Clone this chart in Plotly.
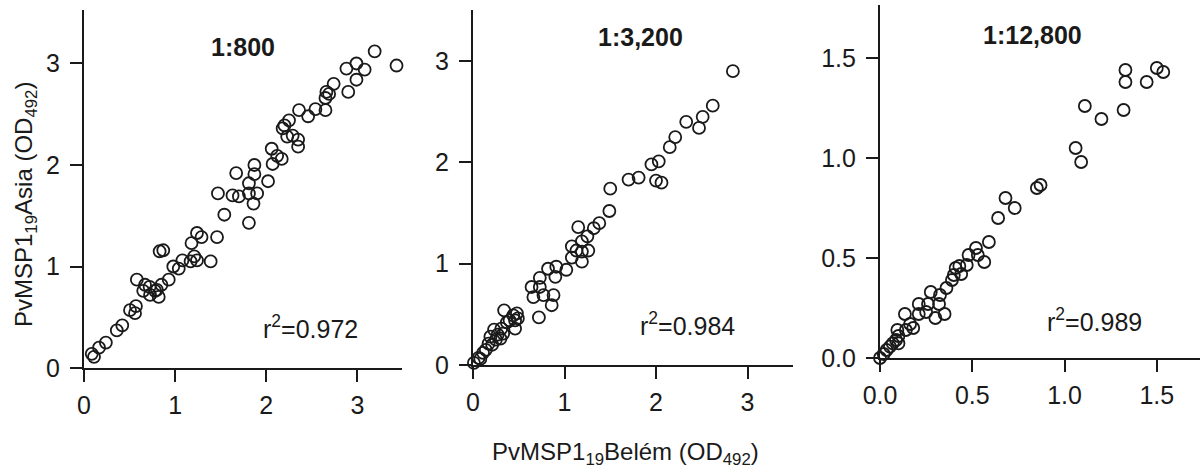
import plotly.graph_objects as go

W, H = 1200, 471

# 1:800 dilution
p1_x = [0.085, 0.11, 0.165, 0.24, 0.36, 0.42, 0.505, 0.57, 0.56, 0.58, 0.67, 0.65, 0.725, 0.80, 0.82,
        0.85, 0.93, 0.83, 0.87, 0.98, 1.04, 1.08, 1.17, 1.24, 1.21, 1.18, 1.24, 1.29, 1.39, 1.46,
        1.54, 1.47, 1.63, 1.70, 1.67, 1.81, 1.81, 1.81, 1.86, 1.90, 1.87, 1.87, 2.02, 2.06, 2.07,
        2.12, 2.17, 2.18, 2.20, 2.25, 2.23, 2.29, 2.35, 2.35, 2.36, 2.46, 2.54, 2.65, 2.65, 2.66,
        2.69, 2.74, 2.90, 2.88, 2.99, 2.99, 3.08, 3.19, 3.43, 0.78, 0.72]
p1_y = [0.14, 0.11, 0.20, 0.25, 0.37, 0.42, 0.57, 0.61, 0.54, 0.87, 0.82, 0.76, 0.72, 0.77, 0.70,
        0.82, 0.87, 1.15, 1.16, 1.00, 0.98, 1.06, 1.05, 1.06, 1.10, 1.23, 1.33, 1.29, 1.05, 1.29,
        1.51, 1.72, 1.70, 1.69, 1.92, 1.43, 1.72, 1.82, 1.62, 1.72, 2.00, 1.91, 1.84, 2.16, 2.01,
        2.09, 2.06, 2.36, 2.39, 2.44, 2.28, 2.29, 2.25, 2.18, 2.54, 2.48, 2.55, 2.54, 2.66, 2.72,
        2.70, 2.80, 2.72, 2.95, 3.00, 2.84, 2.94, 3.12, 2.98, 0.76, 0.80]

# 1:3,200 dilution
p2_x = [0.01, 0.06, 0.11, 0.14, 0.17, 0.19, 0.23, 0.25, 0.30, 0.31, 0.34, 0.37, 0.40, 0.46, 0.46,
        0.48, 0.49, 0.44, 0.33, 0.72, 0.64, 0.66, 0.73, 0.73, 0.77, 0.82, 0.88, 0.86, 0.90, 0.91,
        1.02, 1.08, 1.08, 1.13, 1.15, 1.19, 1.19, 1.19, 1.25, 1.26, 1.32, 1.38, 1.49, 1.50, 1.70,
        1.81, 1.95, 2.03, 2.00, 2.06, 2.15, 2.21, 2.33, 2.47, 2.51, 2.62, 2.84, 0.08, 0.21, 0.27]
p2_y = [0.02, 0.07, 0.12, 0.15, 0.21, 0.28, 0.35, 0.25, 0.26, 0.36, 0.54, 0.42, 0.44, 0.36, 0.44,
        0.51, 0.46, 0.49, 0.31, 0.47, 0.77, 0.67, 0.86, 0.77, 0.69, 0.95, 0.69, 0.59, 0.87, 0.97,
        0.94, 1.06, 1.17, 1.13, 1.36, 1.02, 1.12, 1.22, 1.27, 1.13, 1.35, 1.40, 1.52, 1.74, 1.83,
        1.85, 1.98, 2.01, 1.82, 1.80, 2.15, 2.25, 2.40, 2.34, 2.45, 2.56, 2.90, 0.06, 0.20, 0.30]

# 1:12,800 dilution
p3_x = [0.0, 0.02, 0.036, 0.054, 0.069, 0.087, 0.10, 0.10, 0.094, 0.14, 0.135, 0.18, 0.163, 0.21,
        0.21, 0.25, 0.26, 0.275, 0.30, 0.32, 0.325, 0.35, 0.36, 0.39, 0.40, 0.41, 0.44, 0.43, 0.47,
        0.48, 0.52, 0.53, 0.565, 0.59, 0.64, 0.68, 0.73, 0.85, 0.87, 1.06, 1.09, 1.11, 1.20, 1.32,
        1.33, 1.33, 1.445, 1.50, 1.535]
p3_y = [0.0, 0.02, 0.04, 0.057, 0.073, 0.09, 0.073, 0.11, 0.14, 0.14, 0.22, 0.15, 0.17, 0.22,
        0.27, 0.23, 0.27, 0.33, 0.20, 0.27, 0.315, 0.22, 0.35, 0.39, 0.415, 0.45, 0.42, 0.46, 0.465,
        0.515, 0.55, 0.515, 0.48, 0.58, 0.70, 0.80, 0.75, 0.85, 0.865, 1.05, 0.98, 1.26, 1.195, 1.24,
        1.44, 1.38, 1.38, 1.45, 1.43]

titles = ["1:800", "1:3,200", "1:12,800"]
r2_labels = ["r<sup>2</sup>=0.972", "r<sup>2</sup>=0.984", "r<sup>2</sup>=0.989"]


def fx(px):
    return px / W


def fy(py):
    return 1 - py / H


FONT = "Liberation Sans, Arial, sans-serif"
INK = "#1a1a1a"

# pixel boxes: (left, right, top, bottom), axis ranges
panels = [
    dict(box=(84, 402, 10, 368), xr=[0, 3.49], yr=[0, 3.527], dt=1, fmt=""),
    dict(box=(473, 793, 10, 365), xr=[0, 3.497], yr=[0, 3.504], dt=1, fmt=""),
    dict(box=(880, 1200, 5, 358), xr=[0, 1.734], yr=[0, 1.765], dt=0.5, fmt=".1f"),
]
data = [(p1_x, p1_y), (p2_x, p2_y), (p3_x, p3_y)]

fig = go.Figure()
layout = {}
for i, (p, (xs, ys)) in enumerate(zip(panels, data)):
    n = "" if i == 0 else str(i + 1)
    l, r, t, b = p["box"]
    fig.add_trace(go.Scatter(
        x=xs, y=ys, mode="markers", xaxis="x" + n, yaxis="y" + n,
        marker=dict(symbol="circle-open", size=12, color=INK, line=dict(width=1.8)),
        cliponaxis=False, showlegend=False,
    ))
    common = dict(showline=True, linecolor=INK, linewidth=2.2, ticks="outside", ticklen=12,
                  tickwidth=1.6, tickcolor=INK, showgrid=False, zeroline=False, automargin=False,
                  tickfont=dict(family=FONT, size=25, color=INK))
    layout["xaxis" + n] = dict(common, domain=[fx(l), fx(r)], range=p["xr"], dtick=p["dt"],
                               tick0=0, tickformat=p["fmt"], anchor="y" + n, ticklabelstandoff=2)
    layout["yaxis" + n] = dict(common, domain=[fy(b), fy(t)], range=p["yr"], dtick=p["dt"],
                               tick0=0, tickformat=p["fmt"], anchor="x" + n, ticklabelstandoff=5)

fig.update_layout(**layout)

ann = []
title_pos = [(243, 47), (640, 37), (1032, 35)]
r2_pos = [(310, 327), (687, 324), (1094, 320)]
txt_font = dict(family=FONT, size=25, color=INK)
for (tx, ty), txt in zip(title_pos, titles):
    ann.append(dict(x=fx(tx), y=fy(ty), text="<b>" + txt + "</b>", font=txt_font))
for (tx, ty), txt in zip(r2_pos, r2_labels):
    ann.append(dict(x=fx(tx), y=fy(ty), text=txt, font=txt_font))
ann.append(dict(x=fx(625), y=fy(453), text="PvMSP1<sub>19</sub>Belém (OD<sub>492</sub>)",
                font=dict(txt_font, size=24)))
ann.append(dict(x=fx(25), y=fy(205), textangle=-90,
                text="PvMSP1<sub>19</sub>Asia (OD<sub>492</sub>)", font=dict(txt_font, size=24)))
for a in ann:
    a.update(xref="paper", yref="paper", xanchor="center", yanchor="middle", showarrow=False)

fig.update_layout(
    width=W, height=H, margin=dict(l=0, r=0, t=0, b=0, autoexpand=False),
    paper_bgcolor="white", plot_bgcolor="white", annotations=ann,
)

fig.write_html("out.html", config={"displayModeBar": False},
               post_script="document.body.style.margin='0';")
